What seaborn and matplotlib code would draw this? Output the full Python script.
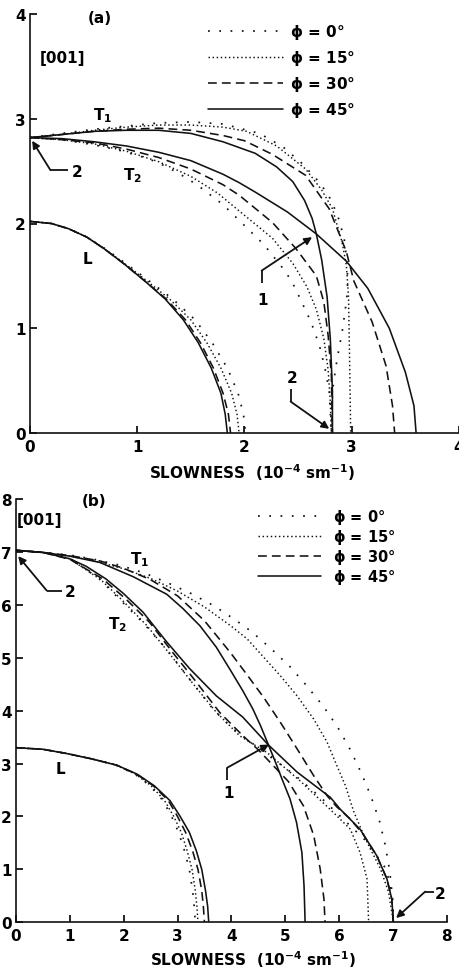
import matplotlib
matplotlib.use("Agg")
import matplotlib.pyplot as plt
from matplotlib.lines import Line2D
import pandas as pd
import seaborn as sns

# ---------------- (a) slowness curves, 1e-4 s/m ----------------
# longitudinal sheet: common ordinates, one abscissa list per azimuth
a_L_y = [2.02, 2.00, 1.95, 1.87, 1.76, 1.62, 1.46, 1.28, 1.08, 0.86, 0.62, 0.38, 0.18, 0.00]
a_L0_x = [0.00, 0.20, 0.36, 0.53, 0.70, 0.89, 1.10, 1.33, 1.54, 1.70, 1.84, 1.94, 1.99, 2.01]
a_L15_x = [0.00, 0.20, 0.36, 0.53, 0.69, 0.88, 1.08, 1.30, 1.50, 1.65, 1.78, 1.88, 1.93, 1.95]
a_L30_x = [0.00, 0.20, 0.36, 0.53, 0.69, 0.87, 1.06, 1.27, 1.45, 1.59, 1.71, 1.80, 1.85, 1.87]
a_L45_x = [0.00, 0.20, 0.36, 0.53, 0.69, 0.87, 1.06, 1.26, 1.43, 1.57, 1.69, 1.78, 1.82, 1.84]

a_T1_0_x = [0.00, 0.30, 0.60, 0.90, 1.20, 1.50, 1.80, 2.14, 2.36, 2.54, 2.71, 2.81, 2.88, 2.93, 2.96, 2.96, 2.94, 2.91, 2.88, 2.85, 2.82, 2.81]
a_T1_0_y = [2.82, 2.86, 2.90, 2.93, 2.96, 2.97, 2.95, 2.86, 2.73, 2.57, 2.38, 2.22, 2.04, 1.85, 1.60, 1.35, 1.18, 0.96, 0.80, 0.62, 0.40, 0.00]
a_T2_0_x = [0.00, 0.30, 0.60, 0.83, 1.10, 1.28, 1.45, 1.57, 1.80, 1.98, 2.18, 2.36, 2.44, 2.52, 2.62, 2.70, 2.75, 2.79, 2.80, 2.81]
a_T2_0_y = [2.82, 2.80, 2.75, 2.70, 2.62, 2.54, 2.44, 2.36, 2.18, 2.00, 1.80, 1.57, 1.45, 1.28, 1.06, 0.83, 0.62, 0.40, 0.20, 0.00]

a_T1_15_x = [0.00, 0.30, 0.60, 0.90, 1.20, 1.50, 1.80, 2.02, 2.30, 2.57, 2.72, 2.82, 2.91, 2.95, 2.97, 2.98, 2.99]
a_T1_15_y = [2.82, 2.85, 2.89, 2.92, 2.94, 2.94, 2.92, 2.88, 2.74, 2.52, 2.32, 2.14, 1.82, 1.60, 1.30, 0.70, 0.00]
a_T2_15_x = [0.00, 0.30, 0.60, 0.90, 1.20, 1.50, 1.75, 1.95, 2.26, 2.45, 2.58, 2.67, 2.74, 2.78, 2.80, 2.81]
a_T2_15_y = [2.82, 2.80, 2.76, 2.69, 2.59, 2.45, 2.29, 2.12, 1.86, 1.62, 1.40, 1.18, 0.90, 0.60, 0.30, 0.00]

a_T1_30_x = [0.00, 0.30, 0.60, 0.90, 1.20, 1.50, 1.80, 2.00, 2.26, 2.57, 2.79, 2.95, 3.02, 3.19, 3.32, 3.38, 3.40]
a_T1_30_y = [2.82, 2.85, 2.88, 2.90, 2.91, 2.89, 2.84, 2.79, 2.66, 2.46, 2.14, 1.73, 1.45, 1.06, 0.64, 0.26, 0.00]
a_T2_30_x = [0.00, 0.30, 0.60, 0.90, 1.20, 1.50, 1.80, 1.95, 2.26, 2.48, 2.67, 2.74, 2.78, 2.81, 2.82]
a_T2_30_y = [2.82, 2.80, 2.77, 2.71, 2.63, 2.52, 2.37, 2.27, 2.01, 1.76, 1.50, 1.25, 0.93, 0.55, 0.00]

a_T1_45_x = [0.00, 0.30, 0.60, 0.90, 1.20, 1.50, 1.80, 2.10, 2.30, 2.45, 2.56, 2.63, 2.67, 2.72, 2.77, 2.80, 2.82, 2.82]
a_T1_45_y = [2.82, 2.85, 2.88, 2.89, 2.89, 2.86, 2.78, 2.67, 2.54, 2.40, 2.22, 2.05, 1.90, 1.65, 1.30, 0.90, 0.40, 0.00]
a_T2_45_x = [0.00, 0.30, 0.60, 0.90, 1.20, 1.50, 1.80, 1.95, 2.10, 2.40, 2.67, 2.95, 3.15, 3.35, 3.50, 3.58, 3.60]
a_T2_45_y = [2.82, 2.81, 2.78, 2.74, 2.68, 2.60, 2.47, 2.39, 2.30, 2.11, 1.90, 1.64, 1.38, 1.00, 0.58, 0.26, 0.00]

# ---------------- (b) slowness curves, 1e-4 s/m ----------------
b_L_y = [3.30, 3.27, 3.19, 3.09, 2.97, 2.80, 2.58, 2.30, 2.00, 1.70, 1.35, 1.00, 0.60, 0.30, 0.00]
b_L0_x = [0.00, 0.50, 0.94, 1.40, 1.86, 2.21, 2.49, 2.73, 2.89, 3.02, 3.13, 3.22, 3.28, 3.31, 3.33]
b_L15_x = [0.00, 0.50, 0.94, 1.40, 1.86, 2.22, 2.51, 2.76, 2.93, 3.07, 3.18, 3.27, 3.33, 3.36, 3.38]
b_L30_x = [0.00, 0.50, 0.94, 1.40, 1.87, 2.24, 2.55, 2.83, 3.00, 3.15, 3.28, 3.38, 3.45, 3.48, 3.50]
b_L45_x = [0.00, 0.50, 0.94, 1.40, 1.87, 2.25, 2.57, 2.86, 3.05, 3.22, 3.35, 3.45, 3.52, 3.56, 3.58]

b_T1_0_x = [0.00, 0.50, 1.00, 1.45, 1.92, 2.39, 2.83, 3.26, 3.68, 4.08, 4.38, 4.75, 5.09, 5.40, 5.71, 5.98, 6.21, 6.41, 6.59, 6.75, 6.86, 6.94, 6.99, 7.01]
b_T1_0_y = [7.03, 6.99, 6.94, 6.86, 6.75, 6.60, 6.41, 6.21, 5.98, 5.71, 5.49, 5.16, 4.83, 4.47, 4.08, 3.68, 3.26, 2.83, 2.39, 1.92, 1.45, 0.98, 0.50, 0.00]
b_T2_0_x = [0.00, 0.50, 1.00, 1.55, 1.86, 2.35, 2.79, 3.22, 3.66, 3.84, 4.03, 4.60, 5.17, 5.67, 6.17, 6.49, 6.88, 6.99, 7.01]
b_T2_0_y = [7.03, 6.99, 6.88, 6.49, 6.17, 5.67, 5.17, 4.60, 4.03, 3.84, 3.66, 3.22, 2.79, 2.35, 1.86, 1.55, 1.00, 0.50, 0.00]

b_T1_15_x = [0.00, 0.50, 1.00, 1.50, 2.00, 2.50, 3.00, 3.50, 3.98, 4.29, 4.60, 4.91, 5.22, 5.53, 5.78, 5.96, 6.12, 6.27, 6.42, 6.58, 6.77, 6.92, 7.01]
b_T1_15_y = [7.03, 6.99, 6.92, 6.82, 6.68, 6.50, 6.26, 5.96, 5.61, 5.36, 5.01, 4.66, 4.28, 3.84, 3.40, 2.96, 2.58, 2.10, 1.74, 1.39, 1.01, 0.57, 0.00]
b_T2_15_x = [0.00, 0.50, 1.00, 1.58, 1.95, 2.42, 2.85, 3.28, 3.72, 4.16, 4.66, 5.28, 5.90, 6.21, 6.39, 6.52, 6.55]
b_T2_15_y = [7.03, 6.99, 6.87, 6.47, 6.11, 5.62, 5.08, 4.52, 3.97, 3.52, 3.21, 2.67, 2.07, 1.76, 1.32, 0.82, 0.00]

b_T1_30_x = [0.00, 0.50, 1.00, 1.56, 2.00, 2.49, 3.00, 3.50, 3.98, 4.29, 4.60, 4.91, 5.22, 5.53, 5.78, 5.96, 6.20, 6.45, 6.70, 6.89, 6.98, 7.01]
b_T1_30_y = [7.03, 6.99, 6.93, 6.83, 6.69, 6.48, 6.17, 5.70, 5.10, 4.68, 4.25, 3.78, 3.28, 2.77, 2.39, 2.18, 1.96, 1.66, 1.26, 0.82, 0.44, 0.00]
b_T2_30_x = [0.00, 0.50, 1.00, 1.61, 2.04, 2.48, 2.91, 3.35, 3.78, 4.21, 4.50, 4.78, 5.06, 5.34, 5.53, 5.65, 5.72, 5.74]
b_T2_30_y = [7.03, 6.99, 6.86, 6.49, 6.11, 5.67, 5.10, 4.54, 3.97, 3.53, 3.26, 2.96, 2.66, 2.20, 1.64, 1.01, 0.44, 0.00]

b_T1_45_x = [0.00, 0.50, 1.00, 1.56, 2.18, 2.80, 3.10, 3.42, 3.72, 3.98, 4.21, 4.40, 4.54, 4.69, 4.83, 4.94, 5.09, 5.21, 5.31, 5.35, 5.37]
b_T1_45_y = [7.03, 6.99, 6.92, 6.80, 6.53, 6.20, 5.93, 5.60, 5.20, 4.77, 4.38, 4.03, 3.72, 3.35, 3.00, 2.71, 2.33, 1.89, 1.32, 0.69, 0.00]
b_T2_45_x = [0.00, 0.50, 1.00, 1.30, 1.67, 2.00, 2.36, 2.79, 3.22, 3.72, 4.21, 4.69, 5.22, 5.84, 6.02, 6.39, 6.70, 6.89, 6.98, 7.01]
b_T2_45_y = [7.03, 6.99, 6.87, 6.73, 6.49, 6.21, 5.86, 5.31, 4.80, 4.28, 3.88, 3.35, 2.84, 2.36, 2.14, 1.76, 1.26, 0.82, 0.44, 0.00]

azimuths = [0, 15, 30, 45]
legend_labels = ["$\\phi$ = 0°", "$\\phi$ = 15°", "$\\phi$ = 30°", "$\\phi$ = 45°"]
x_ticks_a = [0, 1, 2, 3, 4]
y_ticks_a = [0, 1, 2, 3, 4]
x_ticks_b = [0, 1, 2, 3, 4, 5, 6, 7, 8]
y_ticks_b = [0, 1, 2, 3, 4, 5, 6, 7, 8]
x_title = "SLOWNESS  (10$^{-4}$ sm$^{-1}$)"

# line pattern per azimuth (in units of line width)
ls_map = {0: (0, (1, 5.5)), 15: (0, (1, 1.8)), 30: (0, (5.5, 3.2)), 45: "-"}
lw_map = {0: 1.25, 15: 1.05, 30: 1.15, 45: 1.15}


def sheets(items):
    frames = []
    for name, phi, xs, ys in items:
        frames.append(pd.DataFrame({"x": xs, "y": ys, "sheet": name, "phi": phi}))
    return pd.concat(frames, ignore_index=True)


data_a = sheets([
    ("L0", 0, a_L0_x, a_L_y), ("L15", 15, a_L15_x, a_L_y),
    ("L30", 30, a_L30_x, a_L_y), ("L45", 45, a_L45_x, a_L_y),
    ("T1_0", 0, a_T1_0_x, a_T1_0_y), ("T2_0", 0, a_T2_0_x, a_T2_0_y),
    ("T1_15", 15, a_T1_15_x, a_T1_15_y), ("T2_15", 15, a_T2_15_x, a_T2_15_y),
    ("T1_30", 30, a_T1_30_x, a_T1_30_y), ("T2_30", 30, a_T2_30_x, a_T2_30_y),
    ("T1_45", 45, a_T1_45_x, a_T1_45_y), ("T2_45", 45, a_T2_45_x, a_T2_45_y),
])
data_b = sheets([
    ("L0", 0, b_L0_x, b_L_y), ("L15", 15, b_L15_x, b_L_y),
    ("L30", 30, b_L30_x, b_L_y), ("L45", 45, b_L45_x, b_L_y),
    ("T1_0", 0, b_T1_0_x, b_T1_0_y), ("T2_0", 0, b_T2_0_x, b_T2_0_y),
    ("T1_15", 15, b_T1_15_x, b_T1_15_y), ("T2_15", 15, b_T2_15_x, b_T2_15_y),
    ("T1_30", 30, b_T1_30_x, b_T1_30_y), ("T2_30", 30, b_T2_30_x, b_T2_30_y),
    ("T1_45", 45, b_T1_45_x, b_T1_45_y), ("T2_45", 45, b_T2_45_x, b_T2_45_y),
])

sns.set_theme(style="ticks")
plt.rcParams["font.family"] = ["DejaVu Sans"]
plt.rcParams.update({
    "font.weight": "bold",
    "axes.linewidth": 1.2,
    "xtick.direction": "in", "ytick.direction": "in",
    "xtick.major.size": 5, "ytick.major.size": 5,
    "xtick.major.width": 1.2, "ytick.major.width": 1.2,
    "xtick.labelsize": 11, "ytick.labelsize": 11,
    "text.color": "black", "axes.labelcolor": "black",
    "xtick.color": "black", "ytick.color": "black",
    "mathtext.default": "bf",
})

INK = "#111111"
TXT = dict(fontsize=11, fontweight="bold", ha="center", va="center")

fig = plt.figure(figsize=(4.6, 9.7), dpi=100)
ax_a = fig.add_axes([30 / 460, 1 - 434 / 970, 429 / 460, 419 / 970])
ax_b = fig.add_axes([16 / 460, 1 - 923.3 / 970, 430.7 / 460, 423.3 / 970])


def draw_panel(ax, df, xmax, ymax, xt, yt):
    for phi in azimuths:
        sns.lineplot(data=df[df["phi"] == phi], x="x", y="y", units="sheet",
                     estimator=None, sort=False, color=INK, lw=lw_map[phi],
                     linestyle=ls_map[phi], legend=False, ax=ax)
    ax.set_xlim(0, xmax)
    ax.set_ylim(0, ymax)
    ax.set_xticks(xt)
    ax.set_yticks(yt)
    sns.despine(ax=ax)
    ax.tick_params(axis="y", pad=3)
    ax.tick_params(axis="x", pad=4)
    ax.set_xlabel(x_title, fontsize=11, fontweight="bold")
    ax.xaxis.label.set_va("center")
    ax.set_ylabel("")
    for sp in ax.spines.values():
        sp.set_color(INK)


def pointer(ax, label, tip, elbow, end, text_at):
    ax.plot([end[0], elbow[0]], [end[1], elbow[1]], color=INK, lw=1.3,
            solid_capstyle="butt")
    ax.annotate("", xy=tip, xytext=elbow,
                arrowprops=dict(arrowstyle="-|>", color=INK, lw=1.3,
                                mutation_scale=11, shrinkA=0, shrinkB=0))
    ax.text(*text_at, label, **TXT)


def phi_legend(ax, anchor, size, hlen, pad, spacing):
    handles = [Line2D([], [], color=INK, lw=lw_map[p], linestyle=ls_map[p]) for p in azimuths]
    ax.legend(handles, legend_labels, loc="upper left", bbox_to_anchor=anchor,
              frameon=False, prop={"size": size, "weight": "bold"},
              handlelength=hlen, handletextpad=pad, labelspacing=spacing,
              borderpad=0, borderaxespad=0)


# ---- panel (a)
draw_panel(ax_a, data_a, 4, 4, x_ticks_a, y_ticks_a)
ax_a.xaxis.set_label_coords(0.517, -0.093)
ax_a.text(0.65, 3.97, "(a)", **TXT)
ax_a.text(0.30, 3.58, "[001]", **TXT)
ax_a.text(0.68, 3.04, "T$_1$", **TXT)
ax_a.text(0.96, 2.47, "T$_2$", **TXT)
ax_a.text(0.54, 1.67, "L", **TXT)
pointer(ax_a, "2", (0.02, 2.79), (0.19, 2.51), (0.35, 2.51), (0.44, 2.50))
pointer(ax_a, "1", (2.63, 1.87), (2.16, 1.55), (2.16, 1.43), (2.17, 1.27))
pointer(ax_a, "2", (2.79, 0.04), (2.43, 0.30), (2.43, 0.42), (2.44, 0.53))
phi_legend(ax_a, (0.415, 0.980), 11, 4.9, 0.45, 0.46)

# ---- panel (b)
draw_panel(ax_b, data_b, 8, 8, x_ticks_b, y_ticks_b)
ax_b.xaxis.set_label_coords(0.55, -0.087)
ax_b.text(1.45, 7.98, "(b)", **TXT)
ax_b.text(0.43, 7.62, "[001]", **TXT)
ax_b.text(2.30, 6.87, "T$_1$", **TXT)
ax_b.text(1.88, 5.64, "T$_2$", **TXT)
ax_b.text(0.82, 2.90, "L", **TXT)
pointer(ax_b, "2", (0.04, 6.92), (0.57, 6.27), (0.85, 6.27), (1.00, 6.26))
pointer(ax_b, "1", (4.70, 3.36), (3.92, 2.92), (3.92, 2.68), (3.95, 2.45))
pointer(ax_b, "2", (7.06, 0.08), (7.60, 0.58), (7.77, 0.58), (7.88, 0.55))
phi_legend(ax_b, (0.562, 0.980), 10.5, 4.3, 0.85, 0.05)

fig.savefig("out.png", dpi=100)
